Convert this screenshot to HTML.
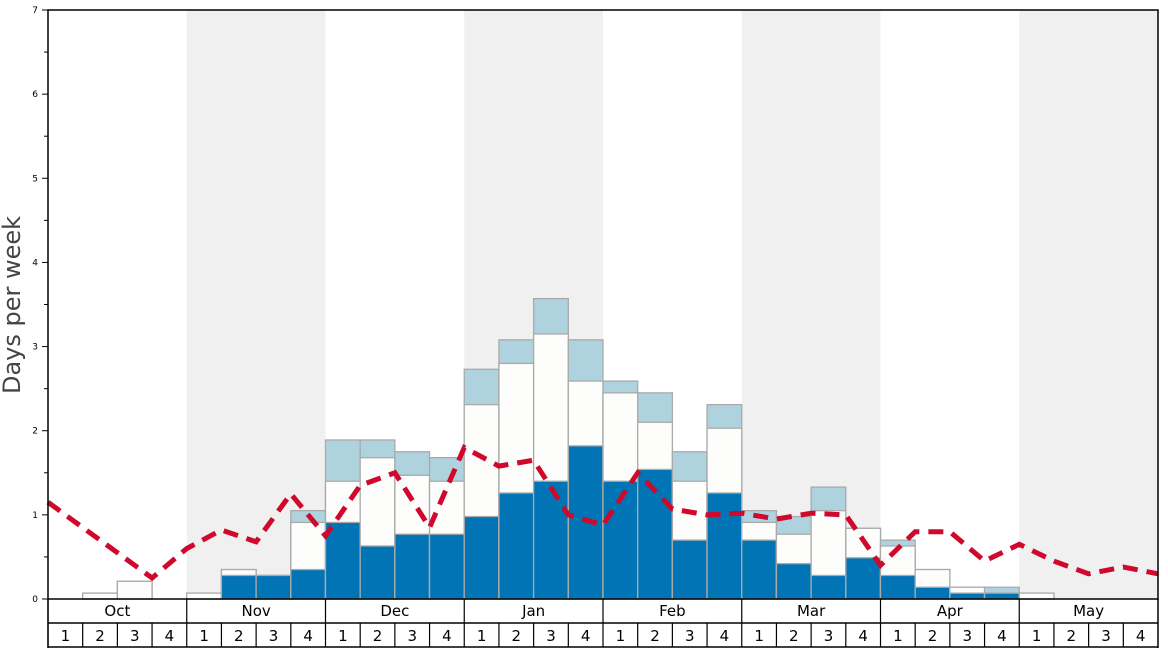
<!DOCTYPE html>
<html><head><meta charset="utf-8"><style>
html,body{margin:0;padding:0;background:#fff;}
svg{display:block;font-family:"DejaVu Sans","Liberation Sans",sans-serif;}
</style></head><body>
<svg id="c" width="1168" height="648"></svg>
<script>
const months=["Oct","Nov","Dec","Jan","Feb","Mar","Apr","May"];
const weekLabels=["1","2","3","4"];
const yTicks=[0,1,2,3,4,5,6,7];
const darkVals=[0,0,0,0, 0,0.28,0.28,0.35, 0.91,0.63,0.77,0.77, 0.98,1.26,1.40,1.82, 1.40,1.54,0.70,1.26, 0.70,0.42,0.28,0.49, 0.28,0.14,0.07,0.07, 0,0,0,0];
const whiteVals=[0,0.07,0.21,0, 0.07,0.35,0.28,0.91, 1.40,1.68,1.47,1.40, 2.31,2.80,3.15,2.59, 2.45,2.10,1.40,2.03, 0.91,0.77,1.05,0.84, 0.63,0.35,0.14,0.07, 0.07,0,0,0];
const lightVals=[0,0.07,0.21,0, 0.07,0.35,0.28,1.05, 1.89,1.89,1.75,1.68, 2.73,3.08,3.57,3.08, 2.59,2.45,1.75,2.31, 1.05,0.98,1.33,0.84, 0.70,0.35,0.14,0.14, 0.07,0,0,0];
const avgVals=[1.15,0.85,0.55,0.25, 0.60,0.82,0.68,1.25, 0.75,1.35,1.50,0.85, 1.80,1.58,1.65,1.00, 0.88,1.50,1.07,1.00, 1.02,0.95,1.02,1.00, 0.40,0.80,0.80,0.45, 0.65,0.45,0.30,0.38, 0.30];

const NS="http://www.w3.org/2000/svg";
const svg=document.getElementById('c');
const X0=48,X1=1158,Y0=599,YT=10;
const bw=(X1-X0)/32;
const x=i=>X0+i*bw;
const y=v=>Y0-(Y0-YT)*v/7;
function mk(t,a,p){const e=document.createElementNS(NS,t);for(const k in a)e.setAttribute(k,a[k]);(p||svg).appendChild(e);return e;}

months.forEach((m,i)=>{if(i%2===1){const r=mk('rect',{x:x(i*4),y:YT,width:bw*4,height:Y0-YT,fill:'#f0f0f0'});

}});
for(let i=0;i<32;i++){
  const layers=[[lightVals[i],'#aed3de'],[whiteVals[i],'#fdfdfb'],[darkVals[i],'#0074b4']];
  layers.forEach(([v,c],k)=>{
    if(v<=0)return;
    const r=mk('rect',{x:x(i),y:y(v),width:bw,height:y(0)-y(v),fill:c,stroke:'#aaaaaa','stroke-width':1.3});
    
    
  });
}
const pts=avgVals.map((v,i)=>x(i).toFixed(1)+','+y(v).toFixed(1)).join(' ');
const pl=mk('polyline',{points:pts,fill:'none',stroke:'#d0082c','stroke-width':5,'stroke-dasharray':'15,9'});


const fr=mk('rect',{x:X0,y:YT,width:X1-X0,height:Y0-YT,fill:'none',stroke:'#000','stroke-width':1.5});


yTicks.forEach(t=>{
  mk('line',{x1:X0-6,x2:X0,y1:y(t),y2:y(t),stroke:'#000'});
  if(t<7)mk('line',{x1:X0-4,x2:X0,y1:y(t+0.5),y2:y(t+0.5),stroke:'#000'});
  const tx=mk('text',{x:X0-10,y:y(t)+3,'font-size':9,'text-anchor':'end'});tx.textContent=t;
  
  
});
const yt=mk('text',{x:20,y:305,'font-size':24,fill:'#444','text-anchor':'middle',transform:'rotate(-90 20 305)'});
yt.textContent='Days per week';


mk('line',{x1:X0,x2:X1,y1:623,y2:623,stroke:'#000','stroke-width':1.5});
mk('line',{x1:X0,x2:X1,y1:647,y2:647,stroke:'#000','stroke-width':1.5});
mk('line',{x1:X0,x2:X0,y1:599,y2:648,stroke:'#000','stroke-width':1.5});
mk('line',{x1:X1,x2:X1,y1:599,y2:648,stroke:'#000','stroke-width':1.5});
months.forEach((m,i)=>{
  mk('line',{x1:x(i*4),x2:x(i*4),y1:599,y2:623,stroke:'#000','stroke-width':1.2});
  const t=mk('text',{x:x(i*4+2),y:616,'font-size':15,'text-anchor':'middle'});t.textContent=m;
  
  
  weekLabels.forEach((w,j)=>{
    const k=i*4+j;
    mk('line',{x1:x(k),x2:x(k),y1:623,y2:647,stroke:'#000','stroke-width':1.2});
    const wt=mk('text',{x:x(k)+bw/2,y:641,'font-size':15,'text-anchor':'middle'});wt.textContent=w;
    
    
  });
});
</script>
</body></html>
